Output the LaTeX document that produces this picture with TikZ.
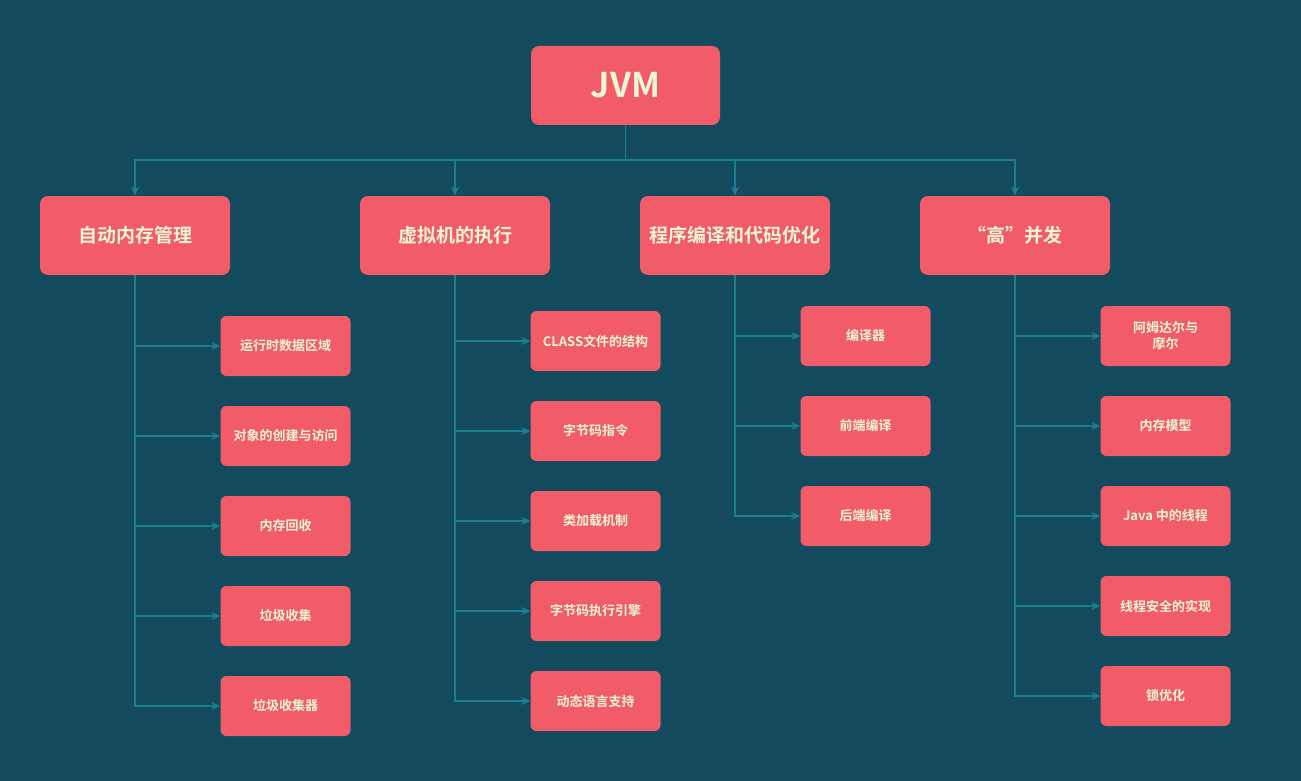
\documentclass[tikz,border=0pt]{standalone}
\usepackage{fontspec}
\setmainfont{Noto Sans CJK SC}[BoldFont={Noto Sans CJK SC Bold}]
\usetikzlibrary{arrows.meta}
\definecolor{bg}{HTML}{134A5E}
\definecolor{box}{HTML}{F25C69}
\definecolor{txt}{HTML}{EAF6D6}
\definecolor{ln}{HTML}{1A7F8E}
\tikzset{
 root/.style={fill=box,rounded corners=8pt,minimum width=189pt,minimum height=79pt,text=txt,font=\fontsize{34}{38}\selectfont\bfseries},
 lvl/.style={fill=box,rounded corners=8pt,minimum width=190pt,minimum height=79pt,text=txt,font=\fontsize{19}{22}\selectfont\bfseries},
 leaf/.style={fill=box,rounded corners=6pt,minimum width=130pt,minimum height=60pt,text=txt,align=center,font=\fontsize{13}{16}\selectfont\bfseries},
 con/.style={draw=ln,line width=1.5pt,-{Stealth[length=9pt,width=8pt]}},
 ln/.style={draw=ln,line width=1.5pt}
}
\begin{document}
\begin{tikzpicture}[x=1pt,y=-1pt]
\fill[bg] (0,0) rectangle (1301,781);
\useasboundingbox (0,0) rectangle (1301,781);
\node[root] (jvm) at (625.5,85.5) {JVM};
\node[lvl] (a) at (135,235.5) {自动内存管理};
\node[lvl] (b) at (455,235.5) {虚拟机的执行};
\node[lvl] (c) at (735,235.5) {程序编译和代码优化};
\node[lvl] (d) at (1015,235.5) {“高”并发};
\coordinate (bus) at (625.5,160);
\draw[ln] (jvm.south) -- (bus);
\foreach \n in {a,b,c,d}{\draw[con] (bus) -| (\n.north);}
% col a
\foreach \y/\t [count=\i] in {346/运行时数据区域,436/对象的创建与访问,526/内存回收,616/垃圾收集,706/垃圾收集器}{
 \node[leaf] (a\i) at (285.5,\y) {\t};
 \draw[con] (a.south) |- (a\i.west);}
\foreach \y/\t [count=\i] in {341/CLASS文件的结构,431/字节码指令,521/类加载机制,611/字节码执行引擎,701/动态语言支持}{
 \node[leaf] (b\i) at (595.5,\y) {\t};
 \draw[con] (b.south) |- (b\i.west);}
\foreach \y/\t [count=\i] in {336/编译器,426/前端编译,516/后端编译}{
 \node[leaf] (c\i) at (865.5,\y) {\t};
 \draw[con] (c.south) |- (c\i.west);}
\foreach \y/\t [count=\i] in {336/{阿姆达尔与\\摩尔},426/内存模型,516/Java 中的线程,606/线程安全的实现,696/锁优化}{
 \node[leaf] (d\i) at (1165.5,\y) {\t};
 \draw[con] (d.south) |- (d\i.west);}
\end{tikzpicture}
\end{document}
